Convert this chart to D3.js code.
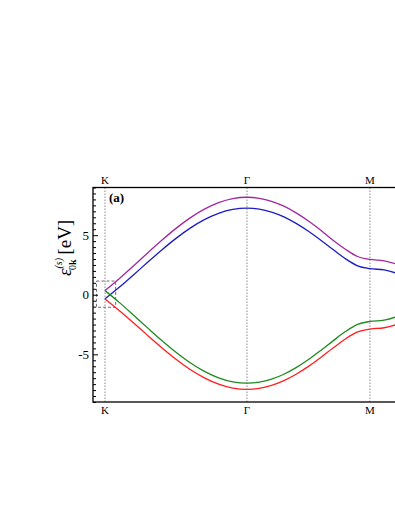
<!DOCTYPE html>
<html>
<head>
<meta charset="utf-8">
<script src="https://cdn.jsdelivr.net/npm/d3@7"></script>
<style>
  body { margin: 0; overflow: hidden; background: #fff; }
  svg { display: block; }
  text { font-family: "Liberation Serif", "DejaVu Serif", serif; }
</style>
</head>
<body>
<script>
// path coordinate along K -> Gamma -> M -> K  (K-Gamma = 1)
var kPath = [0, .1, .2, .3, .4, .5, .6, .7, .8, .9, 1,
  1.087, 1.173, 1.26, 1.346, 1.433, 1.52, 1.606, 1.693, 1.779, 1.866,
  1.966, 2.066, 2.166, 2.266, 2.366];

var bandPurple = [0.35, 1.35, 2.41, 3.51, 4.57, 5.57, 6.45, 7.18, 7.73, 8.07, 8.18,
  8.09, 7.84, 7.43, 6.87, 6.19, 5.41, 4.57, 3.82, 3.21, 2.96,
  2.85, 2.51, 1.96, 1.23, 0.35];
var bandBlue = [-0.35, 0.62, 1.66, 2.72, 3.76, 4.73, 5.59, 6.30, 6.83, 7.16, 7.27,
  7.19, 6.94, 6.54, 5.99, 5.33, 4.58, 3.79, 3.02, 2.43, 2.19,
  2.08, 1.75, 1.22, 0.51, -0.35];
var bandGreen = [0.35, -0.64, -1.70, -2.78, -3.84, -4.83, -5.71, -6.43, -6.97, -7.31, -7.42,
  -7.33, -7.08, -6.67, -6.12, -5.44, -4.67, -3.87, -3.09, -2.48, -2.24,
  -2.13, -1.79, -1.25, -0.53, 0.35];
var bandRed = [-0.35, -1.32, -2.35, -3.41, -4.44, -5.41, -6.27, -6.97, -7.50, -7.83, -7.94,
  -7.86, -7.61, -7.21, -6.67, -6.01, -5.26, -4.47, -3.71, -3.12, -2.88,
  -2.77, -2.44, -1.91, -1.21, -0.35];

// only K, Gamma, M fall inside the visible window
var symLabels = ["K", "\u0393", "M"];
var symPos = [0, 1, 1.866, 2.366];
var yTicks = [-5, 0, 5];

var bands = [
  { name: "purple", values: bandPurple, color: "#a0289f" },
  { name: "blue", values: bandBlue, color: "#1c1cc4" },
  { name: "green", values: bandGreen, color: "#1e8c1e" },
  { name: "red", values: bandRed, color: "#ff1f1f" }
];

var W = 470, H = 511;
var margin = { left: 93, right: 17, top: 187.5, bottom: 109 };

var svg = d3.select("body").append("svg").attr("width", W).attr("height", H);

var x = d3.scaleLinear().domain([-0.0845, 2.451]).range([margin.left, W - margin.right]);
var y = d3.scaleLinear().domain([-9, 9]).range([H - margin.bottom, margin.top]);

// vertical dotted lines at symmetry points
svg.append("g").selectAll("line").data(symPos).enter().append("line")
  .attr("x1", function (d) { return x(d); }).attr("x2", function (d) { return x(d); })
  .attr("y1", y(9)).attr("y2", y(-9))
  .attr("stroke", "#8a8a8a").attr("stroke-width", 1).attr("stroke-dasharray", "1.5,1.5");

// dashed box around K
svg.append("rect")
  .attr("x", x(-0.06)).attr("y", y(1.15))
  .attr("width", x(0.075) - x(-0.06)).attr("height", y(-1.05) - y(1.15))
  .attr("fill", "none").attr("stroke", "#707070").attr("stroke-width", 1).attr("stroke-dasharray", "3,2");

var line = d3.line()
  .x(function (d) { return x(d[0]); })
  .y(function (d) { return y(d[1]); })
  .curve(d3.curveMonotoneX);

svg.append("g").selectAll("path").data(bands).enter().append("path")
  .attr("d", function (b) { return line(kPath.map(function (k, i) { return [k, b.values[i]]; })); })
  .attr("fill", "none").attr("stroke", function (b) { return b.color; }).attr("stroke-width", 1.3);

// frame
svg.append("rect")
  .attr("x", x(-0.0845)).attr("y", y(9))
  .attr("width", x(2.451) - x(-0.0845)).attr("height", y(-9) - y(9))
  .attr("fill", "none").attr("stroke", "#000").attr("stroke-width", 1.3);

// y axis ticks (inward) and labels
var yAxis = d3.axisRight(y).tickValues(d3.range(-9, 9.01, 0.5)).tickSize(0).tickFormat("");
var yg = svg.append("g").attr("transform", "translate(" + margin.left + ",0)").call(yAxis);
yg.select(".domain").remove();
yg.selectAll(".tick line")
  .attr("x2", function (d) { return yTicks.indexOf(d) >= 0 ? 5 : 3; })
  .attr("stroke", "#000").attr("stroke-width", 1);

svg.append("g").selectAll("text").data(yTicks).enter().append("text")
  .attr("x", margin.left - 4).attr("y", function (d) { return y(d) + 4.5; })
  .attr("text-anchor", "end").attr("font-size", 13)
  .text(function (d) { return d; });

// symmetry labels top and bottom
svg.append("g").selectAll("text").data(symLabels).enter().append("text")
  .attr("x", function (d, i) { return x(symPos[i]); }).attr("y", y(9) - 4)
  .attr("text-anchor", "middle").attr("font-size", 11).text(function (d) { return d; });
svg.append("g").selectAll("text").data(symLabels).enter().append("text")
  .attr("x", function (d, i) { return x(symPos[i]); }).attr("y", y(-9) + 12)
  .attr("text-anchor", "middle").attr("font-size", 11).text(function (d) { return d; });

// panel tag
svg.append("text").attr("x", x(0) + 4).attr("y", y(9) + 14)
  .attr("font-size", 13).attr("font-weight", "bold").text("(a)");

// y label
var yl = svg.append("text").attr("transform", "translate(71,276) rotate(-90)").attr("font-size", 19);
yl.append("tspan").attr("font-style", "italic").text("\u03b5");
yl.append("tspan").attr("font-size", 10).attr("dy", -9).attr("font-style", "italic").text("(s)");
yl.append("tspan").attr("font-size", 10).attr("dx", -12).attr("dy", 14).text("0");
yl.append("tspan").attr("font-size", 10).attr("font-weight", "bold").text("k");
yl.append("tspan").attr("dy", -5).text(" [eV]");
</script>
</body>
</html>
